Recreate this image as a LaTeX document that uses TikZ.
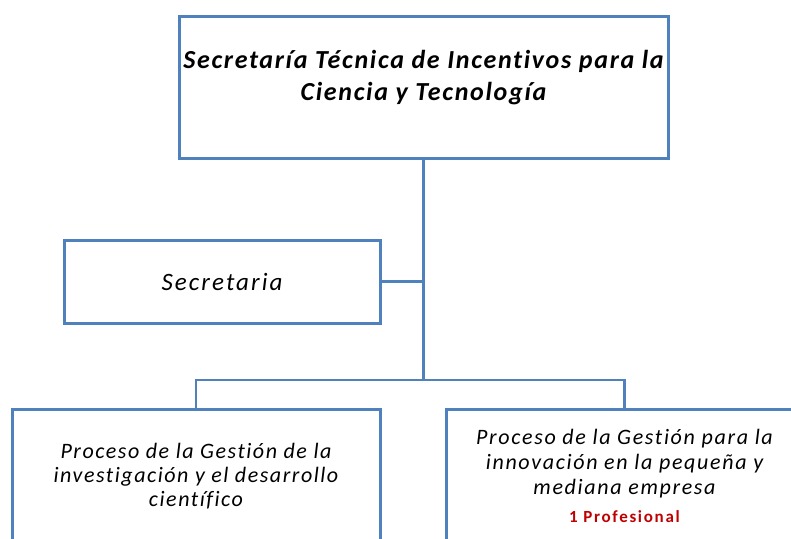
\documentclass[tikz,border=0pt]{standalone}
\usepackage{fontspec}
\setmainfont{Carlito}[Ligatures=NoCommon]
\definecolor{boxblue}{HTML}{4F81BD}
\definecolor{darkred}{HTML}{C00000}

\begin{document}
\begin{tikzpicture}[x=1pt,y=-1pt,
  unitbox/.style={draw=boxblue, line width=3pt, fill=white, inner sep=0pt},
  link/.style={draw=boxblue, line width=2.2pt},
  trunk/.style={draw=boxblue, line width=3pt}]

\useasboundingbox (0,0) rectangle (791,538);

% boxes
\node[unitbox, minimum width=489pt, minimum height=142pt] (stic) at (423.5,87) {};
\node[font=\fontsize{26}{32}\selectfont\bfseries\itshape\addfontfeatures{LetterSpace=6.5},
  align=center] (title) at (423.5,78)
  {Secretaría Técnica de Incentivos para la\\Ciencia y Tecnología};
\node[unitbox, minimum width=316pt, minimum height=83pt,
  font=\fontsize{25}{26}\selectfont\itshape\addfontfeatures{LetterSpace=8.4}] (sec) at (222,281.5) {Secretaria};
\node[unitbox, minimum width=368pt, minimum height=134pt, align=center,
  font=\fontsize{22}{24}\selectfont\itshape\addfontfeatures{LetterSpace=7}] (invest) at (196,476)
  {Proceso de la Gestión de la\\investigación y el desarrollo\\científico};
\node[unitbox, minimum width=357pt, minimum height=134pt, align=center,
  font=\fontsize{22}{25}\selectfont\itshape\addfontfeatures{LetterSpace=7.6}] (pyme) at (624.5,476)
  {Proceso de la Gestión para la\\innovación en la pequeña y\\mediana empresa\\[3pt]
   {\fontsize{17}{18}\selectfont\upshape\bfseries\addfontfeatures{LetterSpace=10}\color{darkred}1 Profesional}};

% connectors
\coordinate (hub) at (423.5,380);
\draw[trunk] (stic.south) -- (hub);
\draw[link] (sec.east) -- (sec.east -| hub);
\draw[link] (invest.north) |- (hub) -| (pyme.north);

\end{tikzpicture}
\end{document}
